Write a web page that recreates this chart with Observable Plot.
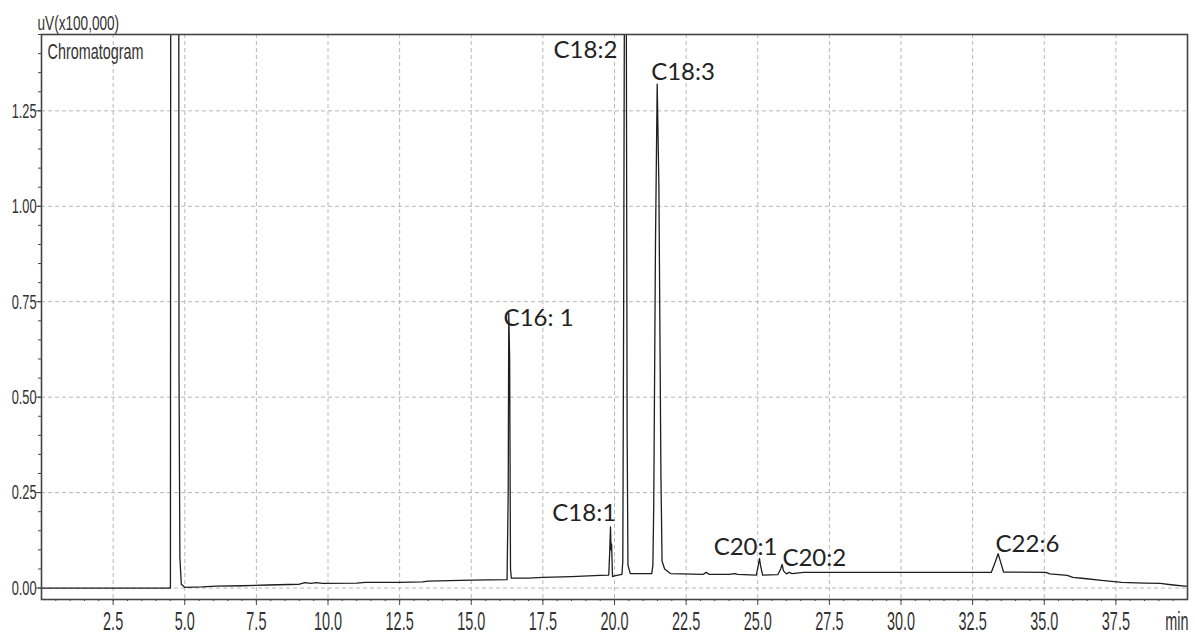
<!DOCTYPE html>
<html>
<head>
<meta charset="utf-8">
<script src="https://cdn.jsdelivr.net/npm/d3@7"></script>
<script src="https://cdn.jsdelivr.net/npm/@observablehq/plot@0.6"></script>
<style>
  html, body { margin: 0; padding: 0; background: #fff; }
  #chart svg { display: block; }
</style>
</head>
<body>
<div id="chart"></div>
<script>
// ---- data ----
const time = [
  0.00, 4.50, 4.52, 4.78, 4.80, 4.83, 4.88, 5.00, 5.60, 6.10, 7.00, 7.90,
  9.00, 9.20, 9.40, 9.60, 9.80, 11.00, 11.30, 12.50, 13.30, 13.50, 15.00,
  16.25, 16.29, 16.31, 16.34, 16.37, 16.40, 17.00, 17.50, 18.50, 19.50,
  19.80, 19.83, 19.86, 19.88, 19.90, 19.93, 20.00,
  20.26, 20.29, 20.32, 20.36, 20.40, 20.44, 20.47, 20.55,
  21.30, 21.34, 21.37, 21.43, 21.49, 21.55, 21.62, 21.66, 21.75, 21.95,
  23.10, 23.20, 23.30, 24.00, 24.20, 24.30,
  24.95, 25.02, 25.06, 25.10, 25.17,
  25.70, 25.80, 25.85, 25.90, 26.00, 26.10, 26.20, 26.60,
  33.15, 33.30, 33.39, 33.47, 33.58,
  35.05, 35.20, 35.80, 36.00, 36.40, 37.00, 37.70, 38.50, 39.05, 39.50, 39.90, 40.00
];
const signal = [
  0.000, 0.000, 3.000, 3.000, 0.560, 0.080, 0.010, 0.002, 0.003, 0.005, 0.006, 0.008,
  0.010, 0.014, 0.012, 0.014, 0.012, 0.013, 0.015, 0.015, 0.016, 0.018, 0.021,
  0.022, 0.250, 0.720, 0.600, 0.050, 0.026, 0.026, 0.028, 0.030, 0.033,
  0.034, 0.090, 0.160, 0.100, 0.115, 0.030, 0.032,
  0.036, 0.070, 0.750, 2.000, 2.000, 0.420, 0.060, 0.038,
  0.038, 0.060, 0.220, 0.900, 1.320, 1.050, 0.300, 0.070, 0.050, 0.038,
  0.036, 0.041, 0.036, 0.036, 0.038, 0.036,
  0.034, 0.060, 0.077, 0.058, 0.034,
  0.035, 0.050, 0.062, 0.045, 0.037, 0.041, 0.038, 0.041,
  0.041, 0.070, 0.090, 0.070, 0.042,
  0.041, 0.037, 0.033, 0.028, 0.025, 0.020, 0.015, 0.013, 0.012, 0.008, 0.005, 0.005
];

const peakNames  = ["C16: 1", "C18:1", "C18:2", "C18:3", "C20:1", "C20:2", "C22:6"];
const peakLabelX = [16.13, 17.83, 20.10, 21.28, 23.46, 25.86, 33.30];
const peakLabelY = [0.706, 0.197, 1.409, 1.350, 0.107, 0.079, 0.114];
const peakAnchor = ["start", "start", "end", "start", "start", "start", "start"];

const xTicks = [2.5, 5.0, 7.5, 10.0, 12.5, 15.0, 17.5, 20.0, 22.5, 25.0, 27.5, 30.0, 32.5, 35.0, 37.5];
const yTicks = [0.00, 0.25, 0.50, 0.75, 1.00, 1.25];
const xMinorStep = 0.5;
const yMinorStep = 0.05;

const yUnitLabel = "uV(x100,000)";
const xUnitLabel = "min";
const legendText = "Chromatogram";

// ---- build tables ----
const trace = time.map((t, i) => ({t, v: signal[i]}));
const peaks = peakNames.map((n, i) => ({name: n, x: peakLabelX[i], y: peakLabelY[i], anchor: peakAnchor[i]}));
const xMinor = d3.range(xMinorStep, 40, xMinorStep);
const yMinor = d3.range(0, 1.45 + 1e-9, yMinorStep);

const sans = "'Liberation Sans', Arimo, Arial, sans-serif";
const peakFont = "Lato, 'Open Sans', sans-serif";
const gridStyle = {stroke: "#b8b8b8", strokeOpacity: 1, strokeWidth: 1, strokeDasharray: "4,3"};

const chart = Plot.plot({
  width: 1195,
  height: 640,
  marginLeft: 41,
  marginRight: 8,
  marginTop: 34,
  marginBottom: 41,
  x: {domain: [0, 40]},
  y: {domain: [-0.030, 1.450]},
  style: {background: "#fff", fontFamily: sans},
  marks: [
    Plot.gridX(xTicks, gridStyle),
    Plot.gridY(yTicks, gridStyle),
    Plot.line(trace, {x: "t", y: "v", stroke: "#1e1e1e", strokeWidth: 1.3, clip: true}),
    // axes ticks
    Plot.axisX(xTicks, {tickSize: 6, tickFormat: () => "", label: null, stroke: "#444"}),
    Plot.axisX(xMinor, {tickSize: 2, tickFormat: () => "", label: null, stroke: "#444"}),
    Plot.axisY(yTicks, {tickSize: 5, tickFormat: () => "", label: null, stroke: "#444"}),
    Plot.axisY(yMinor, {tickSize: 3, tickFormat: () => "", label: null, stroke: "#444"}),
    // tick labels
    Plot.text(xTicks, {x: d => d, frameAnchor: "bottom", dy: 22, text: d => d.toFixed(1),
      fontSize: 17, fill: "#333", lineAnchor: "middle", ariaLabel: () => "xlab"}),
    Plot.text(yTicks, {y: d => d, frameAnchor: "left", dx: -5, textAnchor: "end", text: d => d.toFixed(2),
      fontSize: 16, fill: "#333", lineAnchor: "middle", ariaLabel: () => "ylab"}),
    Plot.text([xUnitLabel], {x: 40, frameAnchor: "bottom", dy: 22, textAnchor: "end", dx: 1, text: d => d,
      fontSize: 17, fill: "#333", lineAnchor: "middle", ariaLabel: () => "minlab"}),
    Plot.text([yUnitLabel], {frameAnchor: "top-left", dx: -4, dy: -11.5, textAnchor: "start", text: d => d,
      fontSize: 17, fill: "#333", lineAnchor: "middle", ariaLabel: () => "ulab"}),
    Plot.text([legendText], {frameAnchor: "top-left", dx: 6, dy: 18, textAnchor: "start", text: d => d,
      fontSize: 18, fill: "#333", lineAnchor: "middle", ariaLabel: () => "ulab"}),
    // peak labels
    Plot.text(peaks.filter(d => d.anchor === "start"), {x: "x", y: "y", text: "name", textAnchor: "start",
      fontFamily: peakFont, fontSize: 24, fill: "#222", lineAnchor: "middle"}),
    Plot.text(peaks.filter(d => d.anchor === "end"), {x: "x", y: "y", text: "name", textAnchor: "end",
      fontFamily: peakFont, fontSize: 24, fill: "#222", lineAnchor: "middle"}),
    Plot.frame({stroke: "#444", strokeWidth: 1.6})
  ]
});

document.getElementById("chart").appendChild(chart);

// squeeze/stretch the labels to mimic the tall, narrow face of the reference
function stretch(label, sx, sy, origin) {
  chart.querySelectorAll(`text[aria-label="${label}"]`).forEach(t => {
    const b = t.getBBox();
    const ox = origin === "start" ? b.x : origin === "end" ? b.x + b.width : b.x + b.width / 2;
    const oy = b.y + b.height / 2;
    const T = t.getAttribute("transform") || "";
    t.setAttribute("transform", `${T} translate(${ox},${oy}) scale(${sx},${sy}) translate(${-ox},${-oy})`);
  });
}
stretch("xlab", 0.85, 1.55, "middle");
stretch("ylab", 0.8, 1.3, "end");
stretch("minlab", 0.85, 1.55, "end");
stretch("ulab", 0.8, 1.2, "start");
</script>
</body>
</html>
